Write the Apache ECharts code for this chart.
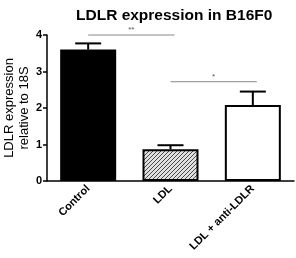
<!DOCTYPE html>
<html>
<head>
<meta charset="utf-8">
<script src="https://cdn.jsdelivr.net/npm/echarts@6/dist/echarts.min.js"></script>
<style>
  html, body { margin: 0; padding: 0; background: #fff; }
  #main { width: 296px; height: 258px; }
</style>
</head>
<body>
<div id="main"></div>
<script>
// chart data
var categories = ['Control', 'LDL', 'LDL + anti-LDLR'];
var means = [3.6, 0.87, 2.08];
var errors = [0.17, 0.11, 0.37];
var yTicks = [0, 1, 2, 3, 4];
// significance brackets: [from index, to index, height, label]
var sigFrom = [0, 1];
var sigTo = [1, 2];
var sigHeight = [4.0, 2.72];
var sigLabel = ['**', '*'];

// hatch pattern for the LDL bar
function makeHatch() {
    var c = document.createElement('canvas');
    c.width = 4;
    c.height = 4;
    var ctx = c.getContext('2d');
    ctx.fillStyle = '#e0e0e0';
    ctx.fillRect(0, 0, 4, 4);
    ctx.strokeStyle = '#4a4a4a';
    ctx.lineWidth = 1;
    ctx.beginPath();
    ctx.moveTo(0, 4);
    ctx.lineTo(4, 0);
    ctx.moveTo(-1, 1);
    ctx.lineTo(1, -1);
    ctx.moveTo(3, 5);
    ctx.lineTo(5, 3);
    ctx.stroke();
    return c;
}

var fills = ['#000', { image: makeHatch(), repeat: 'repeat' }, '#fff'];

var barData = means.map(function(v, i) {
    return {
        value: v,
        itemStyle: { color: fills[i], borderColor: '#000', borderWidth: 2 }
    };
});

var errData = means.map(function(v, i) {
    return [i, v, v + errors[i]];
});

var sigData = sigFrom.map(function(f, i) {
    return [f, sigTo[i], sigHeight[i], sigLabel[i]];
});

var chart = echarts.init(document.getElementById('main'));

chart.setOption({
    animation: false,
    title: {
        text: 'LDLR expression in B16F0',
        left: 71,
        top: 3,
        textStyle: { fontFamily: 'Liberation Sans', fontSize: 15.5, fontWeight: 'bold', color: '#000' }
    },
    grid: { left: 47, right: 2, top: 35, bottom: 77, containLabel: false, outerBoundsMode: 'none' },
    xAxis: {
        type: 'category',
        data: categories,
        axisLine: { lineStyle: { color: '#000', width: 1.5 } },
        axisTick: { alignWithLabel: true, length: 4, lineStyle: { color: '#000', width: 1.5 } },
        axisLabel: {
            rotate: 45,
            margin: 6,
            fontFamily: 'Liberation Sans',
            fontSize: 11,
            fontWeight: 'bold',
            color: '#000'
        }
    },
    yAxis: {
        type: 'value',
        min: 0,
        max: 4,
        interval: 1,
        name: 'LDLR expression\nrelative to 18S',
        nameLocation: 'middle',
        nameGap: 15,
        nameMoveOverlap: false,
        nameTextStyle: { fontFamily: 'Liberation Sans', fontSize: 13, color: '#000', lineHeight: 15 },
        splitLine: { show: false },
        axisLine: { show: true, lineStyle: { color: '#000', width: 1.5 } },
        axisTick: { show: true, length: 4, lineStyle: { color: '#000', width: 1.5 } },
        axisLabel: {
            fontFamily: 'Liberation Sans',
            fontSize: 11,
            fontWeight: 'bold',
            color: '#000',
            margin: 5,
            formatter: function(v) { return yTicks.indexOf(v) >= 0 ? String(v) : ''; }
        }
    },
    series: [
        {
            type: 'custom',
            data: errData,
            z: 1,
            renderItem: function(params, api) {
                var base = api.coord([api.value(0), api.value(1)]);
                var top = api.coord([api.value(0), api.value(2)]);
                return {
                    type: 'group',
                    children: [
                        { type: 'line', shape: { x1: base[0], y1: base[1], x2: top[0], y2: top[1] },
                          style: { stroke: '#000', lineWidth: 2 } },
                        { type: 'line', shape: { x1: top[0] - 13, y1: top[1], x2: top[0] + 13, y2: top[1] },
                          style: { stroke: '#000', lineWidth: 2 } }
                    ]
                };
            }
        },
        {
            type: 'bar',
            data: barData,
            barWidth: 56,
            z: 2
        },
        {
            type: 'custom',
            data: sigData,
            z: 3,
            renderItem: function(params, api) {
                var a = api.coord([api.value(0), api.value(2)]);
                var b = api.coord([api.value(1), api.value(2)]);
                return {
                    type: 'group',
                    children: [
                        { type: 'line', shape: { x1: a[0], y1: a[1], x2: b[0] + 4, y2: b[1] },
                          style: { stroke: '#888', lineWidth: 1 } },
                        { type: 'text', x: (a[0] + b[0]) / 2 + 2, y: a[1] - 1,
                          style: { text: sigLabel[params.dataIndex], align: 'center', verticalAlign: 'bottom',
                                   fontSize: 8, fill: '#555', fontFamily: 'Liberation Sans' } }
                    ]
                };
            }
        }
    ]
});
</script>
</body>
</html>
